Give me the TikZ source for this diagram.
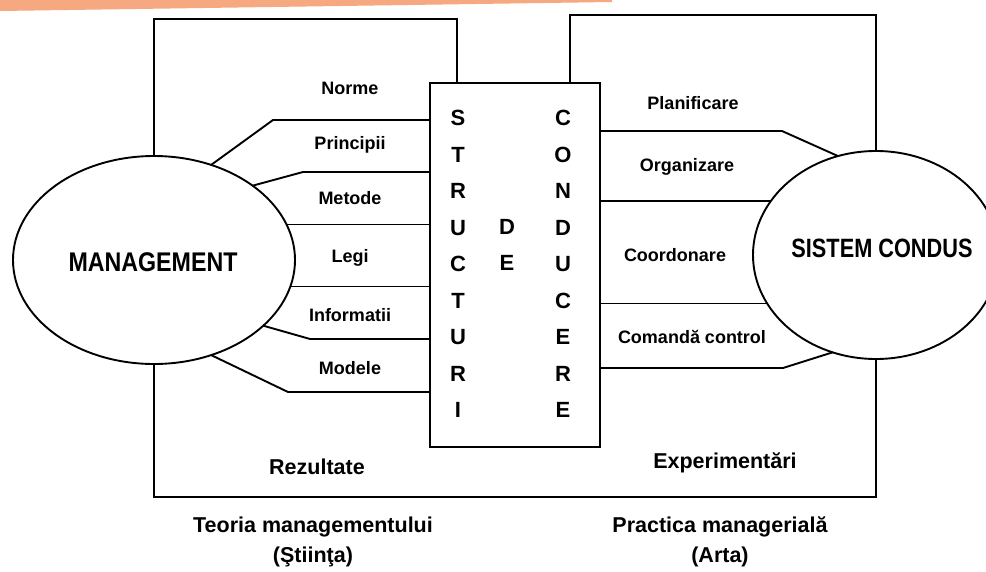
\documentclass[tikz,border=0pt]{standalone}
\usepackage{fontspec}
\setmainfont{Liberation Sans}
\newfontfamily\narrowfont[FakeStretch=0.86]{Liberation Sans}
\newfontfamily\narrowerfont[FakeStretch=0.82]{Liberation Sans}
\usetikzlibrary{shapes.geometric}
\definecolor{band}{RGB}{246,168,128}
\begin{document}
\begin{tikzpicture}[x=1pt,y=-1pt,line width=1.9pt,
  ell/.style={draw,ellipse,inner sep=0pt,outer sep=0pt},
  lbl/.style={font=\fontsize{18}{20}\selectfont\bfseries,inner sep=0pt},
  bigt/.style={font=\narrowfont\fontsize{27}{30}\selectfont\bfseries,inner sep=0pt},
  bigu/.style={font=\narrowerfont\fontsize{26.5}{30}\selectfont\bfseries,inner sep=0pt},
  capt/.style={font=\fontsize{21.5}{30}\selectfont\bfseries,align=center,inner sep=0pt},
  letters/.style={font=\fontsize{22}{36.5}\selectfont\bfseries,align=center,inner sep=0pt}]
\useasboundingbox (0,0) rectangle (986,571);
\fill[band] (0,0) -- (612,0) -- (612,2) -- (0,11) -- cycle;

% main shapes
\node[ell,minimum width=282pt,minimum height=208pt] (mg) at (154,260) {};
\node[ell,minimum width=246pt,minimum height=208pt] (sc) at (876,255) {};
\node[draw,rectangle,inner sep=0pt,outer sep=0pt,minimum width=170pt,minimum height=364pt] (sdc) at (515,265) {};
\node[bigt] (mgt) at (153,262) {MANAGEMENT};
\node[bigu] (sct) at (882,248) {SISTEM CONDUS};

% letters in the central box
\node[letters] (colA) at (458,264) {S\\T\\R\\U\\C\\T\\U\\R\\I};
\node[letters] (colB) at (507,245) {D\\E};
\node[letters] (colC) at (563,264) {C\\O\\N\\D\\U\\C\\E\\R\\E};

% frames
\coordinate (ltop) at (457,19);
\coordinate (rtop) at (570,15);
\coordinate (bot) at (0,497);
\draw (mg.north) |- (ltop) -- (ltop |- sdc.north);
\draw (rtop |- sdc.north) -- (rtop) -| (sc.north);
\draw (mg.south) -- (mg.south |- bot) -- (sc.south |- bot) -- (sc.south);

% left channels
\coordinate (l1) at (273,120);
\coordinate (l2) at (303,172);
\coordinate (l5) at (310,339);
\coordinate (l6) at (288,392);
\draw (mg.59.5) -- (l1) -- (l1 -| sdc.west);
\draw (mg.37.3) -- (l2) -- (l2 -| sdc.west);
\draw (mg.15.7) -- (mg.15.7 -| sdc.west);
\draw (mg.-11.2) -- (mg.-11.2 -| sdc.west);
\draw (mg.-31.1) -- (l5) -- (l5 -| sdc.west);
\draw (mg.-59.1) -- (l6) -- (l6 -| sdc.west);

% right channels
\coordinate (r1) at (782,131);
\coordinate (r4) at (783,368);
\draw (r1 -| sdc.east) -- (r1) -- (sc.111.3);
\draw (sc.153.4) -- (sc.153.4 -| sdc.east);
\draw (sc.204.9) -- (sc.204.9 -| sdc.east);
\draw (r4 -| sdc.east) -- (r4) -- (sc.246.1);

% left labels
\node[lbl] (norme) at (350,88) {Norme};
\node[lbl] (princ) at (350,145) {Principii};
\node[lbl] (metode) at (350,198) {Metode};
\node[lbl] (legi) at (350,258) {Legi};
\node[lbl] (info) at (350,315) {Informatii};
\node[lbl] (modele) at (350,368) {Modele};

% right labels
\node[lbl] (plan) at (693,103) {Planificare};
\node[lbl] (org) at (687,167) {Organizare};
\node[lbl] (coord) at (675,255) {Coordonare};
\node[lbl] (cmd) at (692,337) {Comandă control};

% bottom labels
\node[capt] (rez) at (317,467) {Rezultate};
\node[capt] (exp) at (725,463) {Experimentări};
\node[capt,anchor=north] (teoria) at (313,516) {Teoria managementului\\(Ştiinţa)};
\node[capt,anchor=north] (pract) at (720,516) {Practica managerială\\(Arta)};
\end{tikzpicture}
\end{document}
